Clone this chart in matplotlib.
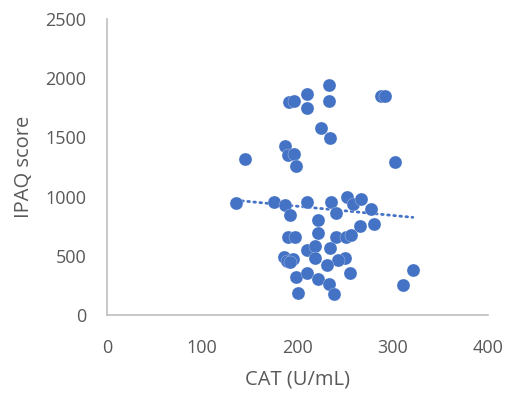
import numpy as np
import matplotlib
matplotlib.use("Agg")
import matplotlib.pyplot as plt

# CAT (U/mL) vs IPAQ score
cat = [135, 145, 175, 187, 190, 196, 198, 191, 196, 210, 210, 233, 233, 225,
       234, 288, 292, 302, 187, 192, 210, 235, 240, 252, 258, 267, 277, 221,
       266, 280, 190, 197, 221, 240, 251, 256, 210, 218, 218, 234, 186, 189,
       195, 192, 250, 243, 231, 255, 198, 210, 222, 233, 238, 201, 321, 311]
ipaq = [945, 1315, 957, 1427, 1351, 1360, 1262, 1796, 1810, 1864, 1745, 1943,
        1807, 1577, 1492, 1850, 1850, 1295, 929, 845, 957, 957, 864, 994, 938,
        977, 893, 805, 754, 766, 662, 662, 690, 656, 662, 676, 550, 580, 485,
        563, 490, 460, 470, 445, 479, 465, 420, 352, 324, 357, 305, 260, 175,
        183, 380, 253]

x_ticks = [0, 100, 200, 300, 400]
y_ticks = [0, 500, 1000, 1500, 2000, 2500]

blue = "#4472C4"
grey_txt = "#595959"
plt.rcParams["font.family"] = ["Open Sans", "DejaVu Sans"]

fig = plt.figure(figsize=(5.14, 3.94), dpi=100)
ax = fig.add_axes([107 / 514, 1 - 315 / 394, 381 / 514, 296 / 394])

ax.scatter(cat, ipaq, s=88, color=blue, edgecolors="#E8EEF8", linewidths=0.2,
           zorder=3)

# linear trendline over the data range
x = np.array(cat, dtype=float)
slope, icept = np.polyfit(x, np.array(ipaq, dtype=float), 1)
tx = np.array([x.min(), x.max()])
ax.plot(tx, slope * tx + icept, linestyle=(0, (0.6, 1.6)), color=blue,
        linewidth=2.0, dash_capstyle="round", zorder=2)

ax.set_xlim(0, 400)
ax.set_ylim(0, 2500)
ax.set_xticks(x_ticks)
ax.set_yticks(y_ticks)
ax.tick_params(length=0, labelsize=13, colors=grey_txt)
ax.tick_params(axis="x", pad=17)
ax.tick_params(axis="y", pad=15)

for side in ["top", "right"]:
    ax.spines[side].set_visible(False)
for side in ["left", "bottom"]:
    ax.spines[side].set_color("#BFBFBF")
    ax.spines[side].set_linewidth(1.2)

ax.set_xlabel("CAT (U/mL)", fontsize=14.5, color=grey_txt, labelpad=9)
ax.set_ylabel("IPAQ score", fontsize=14.5, color=grey_txt, labelpad=8)

fig.savefig("out.png", dpi=100, facecolor="white")
